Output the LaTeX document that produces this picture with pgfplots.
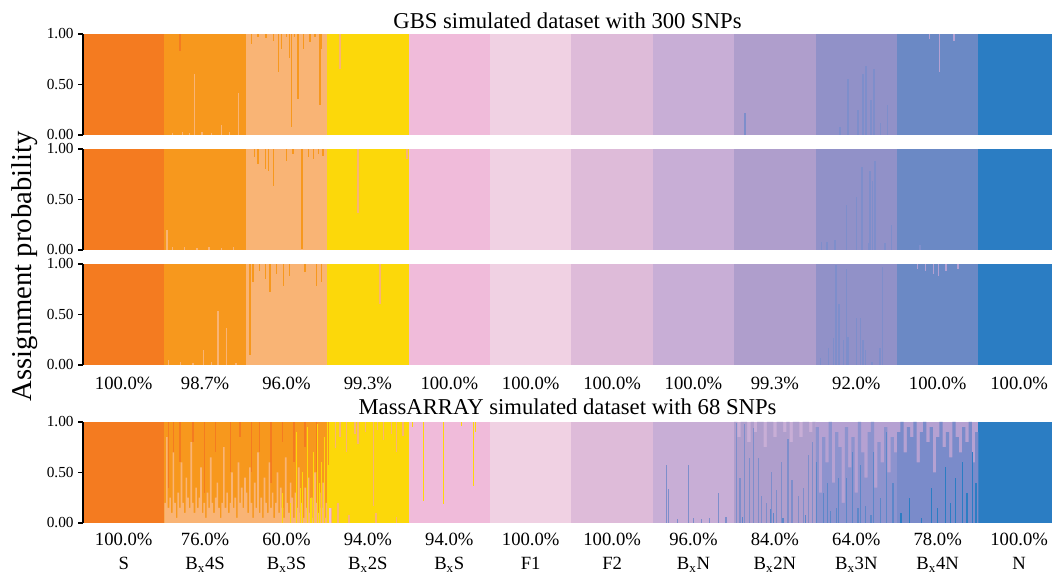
\documentclass[border=0pt]{standalone}
\usepackage{pgfplots}
\pgfplotsset{compat=1.18}
\usepackage{fontspec}
\setmainfont{Liberation Serif}
\definecolor{cS}{HTML}{F47B20}
\definecolor{cB4S}{HTML}{F7981D}
\definecolor{cB3S}{HTML}{F9B475}
\definecolor{cB2S}{HTML}{FCD80A}
\definecolor{cBS}{HTML}{F0BBDA}
\definecolor{cF1}{HTML}{F0D1E3}
\definecolor{cF2}{HTML}{DEBBD9}
\definecolor{cBN}{HTML}{C8AED6}
\definecolor{cB2N}{HTML}{AF9ECC}
\definecolor{cB3N}{HTML}{9191C8}
\definecolor{cB4N}{HTML}{6B89C5}
\definecolor{cN}{HTML}{2B7DC3}
\definecolor{cSpk}{HTML}{7E8ECB}
\definecolor{cMix}{HTML}{8D93CE}
\definecolor{cMix2}{HTML}{7A8BCA}
\definecolor{cLil}{HTML}{B5A1D2}
\definecolor{cBl}{HTML}{5D87C9}
\newcommand{\ftick}{\fontsize{11.5}{13}\selectfont}
\newcommand{\fpct}{\fontsize{14}{17}\selectfont}
\newcommand{\ftitle}{\fontsize{17}{20}\selectfont}
\newcommand{\fylab}{\fontsize{21.5}{25}\selectfont}
\pgfplotsset{
  blk/.style={draw=none, fill=#1, forget plot},
  sp/.style={ycomb, draw=#1, line width=1.1pt, mark=none, forget plot},
  tsp/.style={ycomb, draw=#1, line width=0.9pt, mark=none, forget plot},
  stp/.style={const plot, draw=none, fill=#1, mark=none, forget plot},
  panel/.style={
    scale only axis, width=726.75pt, height=75.75pt,
    anchor=south west,
    xmin=0, xmax=11.904, ymin=0, ymax=1,
    axis line style={draw=none},
    ytick={0,0.5,1}, yticklabels={0.00,0.50,1.00},
    ytick pos=left, tick align=outside, major tick length=3.5pt,
    ytick style={line width=1pt, black},
    yticklabel style={font=\ftick},
    xtick=\empty,
    xtick style={draw=none},
    xticklabel style={font=\fpct, anchor=base, yshift=-14.75pt},
    title style={font=\ftitle, at={(0.5,1)}, anchor=base},
    extra description/.code={\draw[line width=1.5pt] (axis description cs:0,0) -- (axis description cs:0,1);},
  }
}
\newcommand{\blocks}{%
\addplot[blk=cS] coordinates {(0,1)(1,1)}\closedcycle;
\addplot[blk=cB4S] coordinates {(1,1)(2,1)}\closedcycle;
\addplot[blk=cB3S] coordinates {(2,1)(3,1)}\closedcycle;
\addplot[blk=cB2S] coordinates {(3,1)(4,1)}\closedcycle;
\addplot[blk=cBS] coordinates {(4,1)(5,1)}\closedcycle;
\addplot[blk=cF1] coordinates {(5,1)(6,1)}\closedcycle;
\addplot[blk=cF2] coordinates {(6,1)(7,1)}\closedcycle;
\addplot[blk=cBN] coordinates {(7,1)(8,1)}\closedcycle;
\addplot[blk=cB2N] coordinates {(8,1)(9,1)}\closedcycle;
\addplot[blk=cB3N] coordinates {(9,1)(10,1)}\closedcycle;
\addplot[blk=cB4N] coordinates {(10,1)(11,1)}\closedcycle;
\addplot[blk=cN] coordinates {(11,1)(12,1)}\closedcycle;
}
\begin{document}
\begin{tikzpicture}
\useasboundingbox (0,0) rectangle (789pt,429.75pt);
% ---------------- Panel 1 ----------------
\begin{axis}[panel, at={(62.25pt,328.5pt)},
  title={GBS simulated dataset with 300 SNPs}, title style={yshift=-1.7pt}]
\blocks
\addplot[sp=cB3S] coordinates {(1.37,0.60)(1.70,0.10)(1.91,0.42)(1.10,0.02)(1.22,0.03)(1.31,0.02)(1.46,0.03)(1.58,0.02)(1.80,0.03)};
\addplot[sp=cS] coordinates {(1.19,1)};
\addplot[sp=cB4S] coordinates {(1.19,0.83)};
\addplot[sp=cB4S] coordinates {(2.07,1)(2.15,1)(2.25,1)(2.34,1)(2.40,1)(2.44,1)(2.50,1)(2.54,1)(2.56,1)(2.60,1)(2.64,1)(2.71,1)(2.79,1)(2.85,1)(2.91,1)(2.93,1)};
\addplot[sp=cB3S] coordinates {(2.07,0.90)(2.15,0.97)(2.25,0.96)(2.34,0.93)(2.40,0.62)(2.44,0.85)(2.50,0.97)(2.54,0.76)(2.56,0.08)(2.60,0.97)(2.64,0.36)(2.71,0.85)(2.79,0.92)(2.85,0.97)(2.91,0.30)(2.93,0.85)};
\addplot[sp=cB3S] coordinates {(3.16,1)};
\addplot[sp=cB2S] coordinates {(3.16,0.65)};
\addplot[sp=cSpk] coordinates {(8.13,0.22)(9.30,0.08)(9.40,0.55)(9.52,0.25)(9.58,0.60)(9.62,0.68)(9.68,0.35)(9.72,0.65)(9.80,0.12)(9.88,0.30)};
\addplot[sp=cLil] coordinates {(10.40,1)(10.52,1)(10.70,1)};
\addplot[sp=cB4N] coordinates {(10.40,0.95)(10.52,0.62)(10.70,0.93)};
\end{axis}
% ---------------- Panel 2 ----------------
\begin{axis}[panel, at={(62.25pt,242.25pt)}]
\blocks
\addplot[sp=cB3S] coordinates {(1.03,0.20)(1.10,0.03)(1.25,0.03)(1.40,0.02)(1.55,0.03)(1.70,0.02)(1.85,0.03)};
\addplot[sp=cB4S] coordinates {(2.11,1)(2.15,1)(2.24,1)(2.28,1)(2.34,1)(2.50,1)(2.58,1)(2.69,1)(2.77,1)(2.83,1)(2.89,1)(2.95,1)};
\addplot[sp=cB3S] coordinates {(2.11,0.92)(2.15,0.85)(2.24,0.80)(2.28,0.78)(2.34,0.63)(2.50,0.88)(2.58,0.95)(2.69,0.005)(2.77,0.92)(2.83,0.90)(2.89,0.95)(2.95,0.93)};
\addplot[sp=cB3S] coordinates {(3.38,1)(3.98,1)};
\addplot[sp=cB2S] coordinates {(3.38,0.37)(3.98,0.90)};
\addplot[sp=cSpk] coordinates {(9.07,0.08)(9.14,0.08)(9.24,0.10)(9.38,0.45)(9.50,0.52)(9.57,0.82)(9.65,0.07)(9.67,0.78)(9.70,0.68)(9.73,0.88)(9.85,0.07)(9.93,0.25)(10.28,0.05)};
\end{axis}
% ---------------- Panel 3 ----------------
\begin{axis}[panel, at={(62.25pt,156pt)},
  xtick={0.5,1.5,...,11.5},
  xticklabels={100.0\%,98.7\%,96.0\%,99.3\%,100.0\%,100.0\%,100.0\%,100.0\%,99.3\%,92.0\%,100.0\%,100.0\%}]
\blocks
\addplot[sp=cB3S] coordinates {(1.05,0.05)(1.48,0.15)(1.66,0.53)(1.76,0.37)(1.20,0.03)(1.35,0.02)(1.58,0.03)(1.88,0.02)};
\addplot[sp=cB4S] coordinates {(2.05,1)(2.09,1)(2.17,1)(2.24,1)(2.30,1)(2.38,1)(2.46,1)(2.54,1)(2.73,1)(2.87,1)(2.93,1)};
\addplot[sp=cB3S] coordinates {(2.05,0.10)(2.09,0.82)(2.17,0.93)(2.24,0.85)(2.30,0.72)(2.38,0.90)(2.46,0.78)(2.54,0.88)(2.73,0.92)(2.87,0.78)(2.93,0.82)};
\addplot[sp=cB3S] coordinates {(3.65,1)};
\addplot[sp=cB2S] coordinates {(3.65,0.60)};
\addplot[sp=cSpk] coordinates {(9.06,0.07)(9.16,0.17)(9.22,0.27)(9.25,0.99)(9.29,0.60)(9.34,0.25)(9.38,0.95)(9.40,0.28)(9.50,0.47)(9.55,0.47)(9.58,0.25)(9.61,0.15)(9.69,0.03)(9.79,0.17)(9.82,0.97)};
\addplot[sp=cLil] coordinates {(10.25,1)(10.35,1)(10.45,1)(10.51,1)(10.60,1)(10.75,1)};
\addplot[sp=cB4N] coordinates {(10.25,0.95)(10.35,0.93)(10.45,0.90)(10.51,0.88)(10.60,0.93)(10.75,0.95)};
\end{axis}
% ---------------- Panel 4 ----------------
\begin{axis}[panel, at={(62.25pt,37.5pt)},
  title={MassARRAY simulated dataset with 68 SNPs}, title style={yshift=-0.75pt},
  xtick={0.5,1.5,...,11.5},
  xticklabels={100.0\%,76.0\%,60.0\%,94.0\%,94.0\%,100.0\%,100.0\%,96.0\%,84.0\%,64.0\%,78.0\%,100.0\%},
  xticklabel style={yshift=1.65pt},
  extra x ticks={0.5,1.5,...,11.5},
  extra x tick labels={S,B\textsubscript{x}4S,B\textsubscript{x}3S,B\textsubscript{x}2S,B\textsubscript{x}S,F1,F2,B\textsubscript{x}N,B\textsubscript{x}2N,B\textsubscript{x}3N,B\textsubscript{x}4N,N},
  extra x tick style={xtick style={draw=none}, xticklabel style={yshift=-18.05pt}}]
\blocks
% B4S
\addplot[sp=cS] coordinates {(1.05,1)(1.11,1)(1.19,1)(1.35,1)(1.49,1)(1.63,1)(1.81,1)(1.93,1)};
\addplot[sp=cB4S] coordinates {(1.05,0.35)(1.11,0.20)(1.19,0.60)(1.35,0.80)(1.49,0.30)(1.63,0.70)(1.81,0.50)(1.93,0.85)};
\addplot[stp=cB3S] coordinates {(1.00,0.20)(1.02,0.85)(1.04,0.15)(1.06,0.25)(1.08,0.10)(1.10,0.70)(1.12,0.20)(1.14,0.05)(1.16,0.30)(1.18,0.15)(1.20,0.60)(1.22,0.20)(1.24,0.10)(1.26,0.45)(1.28,0.25)(1.30,0.15)(1.32,0.80)(1.34,0.20)(1.36,0.10)(1.38,0.35)(1.40,0.15)(1.42,0.25)(1.44,0.55)(1.46,0.10)(1.48,0.20)(1.50,0.05)(1.52,0.30)(1.54,0.15)(1.56,0.65)(1.58,0.20)(1.60,0.10)(1.62,0.25)(1.64,0.40)(1.66,0.15)(1.68,0.05)(1.70,0.20)(1.72,0.75)(1.74,0.15)(1.76,0.30)(1.78,0.10)(1.80,0.20)(1.82,0.50)(1.84,0.15)(1.86,0.25)(1.88,0.05)(1.90,0.60)(1.92,0.20)(1.94,0.35)(1.96,0.15)(1.98,0.45)(2.00,0.45)}\closedcycle;
% B3S
\addplot[blk=cB4S] coordinates {(2,1)(3,1)}\closedcycle;
\addplot[sp=cS] coordinates {(2.07,1)(2.17,1)(2.31,1)(2.45,1)(2.59,1)(2.73,1)(2.87,1)};
\addplot[sp=cB4S] coordinates {(2.07,0.50)(2.17,0.70)(2.31,0.40)(2.45,0.80)(2.59,0.60)(2.73,0.75)(2.87,0.50)};
\addplot[stp=cB3S] coordinates {(2.00,0.30)(2.02,0.10)(2.04,0.55)(2.06,0.20)(2.08,0.05)(2.10,0.40)(2.12,0.15)(2.14,0.70)(2.16,0.10)(2.18,0.25)(2.20,0.05)(2.22,0.45)(2.24,0.20)(2.26,0.10)(2.28,0.60)(2.30,0.15)(2.32,0.30)(2.34,0.05)(2.36,0.20)(2.38,0.50)(2.40,0.10)(2.42,0.35)(2.44,0.15)(2.46,0.05)(2.48,0.65)(2.50,0.20)(2.52,0.10)(2.54,0.40)(2.56,0.25)(2.58,0.05)(2.60,0.30)(2.62,0.15)(2.64,0.55)(2.66,0.10)(2.68,0.20)(2.70,0.05)(2.72,0.35)(2.74,0.15)(2.76,0.45)(2.78,0.10)(2.80,0.25)(2.82,0.05)(2.84,0.50)(2.86,0.20)(2.88,0.10)(2.90,0.30)(2.92,0.15)(2.94,0.40)(2.96,0.05)(2.98,0.20)(3.00,0.20)}\closedcycle;
\addplot[tsp=cB2S] coordinates {(2.45,0.30)(2.55,0.20)(2.62,0.90)(2.67,0.35)(2.70,0.50)(2.76,0.95)(2.80,0.25)(2.83,0.70)(2.88,0.98)(2.91,0.40)(2.93,0.60)(2.97,0.85)};
% B2S
\addplot[sp=cB3S] coordinates {(3.10,1)(3.16,1)(3.24,1)(3.34,1)(3.38,1)(3.47,1)(3.57,1)(3.62,1)(3.69,1)(3.79,1)(3.85,1)(3.93,1)};
\addplot[sp=cB2S] coordinates {(3.10,0.74)(3.16,0.85)(3.24,0.70)(3.34,0.88)(3.38,0.78)(3.47,0.90)(3.57,0.17)(3.62,0.92)(3.69,0.82)(3.79,0.88)(3.85,0.70)(3.93,0.86)};
\addplot[sp=cB3S] coordinates {(3.05,0.15)(3.13,0.20)(3.27,0.08)(3.60,0.10)(3.85,0.06)};
\addplot[sp=cB4S] coordinates {(3.015,1)};
\addplot[sp=cB2S] coordinates {(3.015,0.57)};
\addplot[sp=cBS] coordinates {(3.035,0.15)};
% BS
\addplot[tsp=cB2S] coordinates {(4.05,1)(4.18,1)(4.43,1)(4.65,1)(4.80,1)(4.82,1)};
\addplot[tsp=cBS] coordinates {(4.05,0.95)(4.18,0.22)(4.43,0.19)(4.65,0.96)(4.80,0.37)(4.82,0.90)};
% BN
\addplot[tsp=cSpk] coordinates {(7.17,0.57)(7.19,0.34)(7.44,0.57)(7.81,0.30)(7.30,0.04)(7.50,0.05)(7.60,0.04)(7.70,0.05)(7.90,0.06)};
% B2N
\addplot[blk=cBN] coordinates {(8,1)(9,1)}\closedcycle;
\addplot[stp=cB2N] coordinates {(8.00,1)(8.04,0.85)(8.08,1)(8.12,1)(8.16,0.8)(8.20,1)(8.24,0.9)(8.28,1)(8.32,1)(8.36,0.75)(8.40,1)(8.44,1)(8.48,0.85)(8.52,1)(8.56,1)(8.60,0.9)(8.64,1)(8.68,0.8)(8.72,1)(8.76,1)(8.80,0.85)(8.84,1)(8.88,1)(8.92,0.9)(8.96,1)(9.00,1)}\closedcycle;
\addplot[tsp=cSpk] coordinates {(8.03,0.99)(8.07,0.45)(8.13,0.98)(8.19,0.64)(8.24,0.94)(8.30,0.64)(8.34,0.27)(8.40,0.20)(8.46,0.50)(8.52,0.33)(8.58,0.60)(8.66,0.83)(8.71,0.43)(8.79,0.27)(8.85,0.35)(8.91,0.67)(8.96,0.80)};
\addplot[tsp=cBl] coordinates {(8.10,0.06)(8.45,0.14)(8.48,0.10)(8.60,0.05)(8.88,0.08)};
% B3N
\addplot[blk=cLil] coordinates {(9,1)(10,1)}\closedcycle;
\addplot[stp=cMix] coordinates {(9.00,0.95)(9.04,0.30)(9.08,0.85)(9.12,0.60)(9.16,1.0)(9.20,0.40)(9.24,0.90)(9.28,0.75)(9.32,0.20)(9.36,0.95)(9.40,0.55)(9.44,0.85)(9.48,0.30)(9.52,1.0)(9.56,0.70)(9.60,0.45)(9.64,0.90)(9.68,1.0)(9.72,0.35)(9.76,0.80)(9.80,0.60)(9.84,0.95)(9.88,0.50)(9.92,0.85)(9.96,0.70)(10.00,0.70)}\closedcycle;
\addplot[tsp=cBl] coordinates {(9.01,0.60)(9.10,0.30)(9.15,0.40)(9.18,0.12)(9.26,0.15)(9.28,0.45)(9.38,0.45)(9.45,0.70)(9.52,0.15)(9.55,0.57)(9.61,0.17)(9.68,0.08)(9.71,0.70)(9.80,0.25)(9.87,0.90)(9.95,0.40)};
% B4N
\addplot[blk=cLil] coordinates {(10,1)(11,1)}\closedcycle;
\addplot[stp=cMix2] coordinates {(10.00,0.90)(10.04,1.0)(10.08,0.70)(10.12,0.95)(10.16,0.85)(10.20,1.0)(10.24,0.60)(10.28,0.90)(10.32,1.0)(10.36,0.80)(10.40,0.95)(10.44,0.50)(10.48,0.85)(10.52,1.0)(10.56,0.75)(10.60,0.90)(10.64,0.65)(10.68,1.0)(10.72,0.85)(10.76,0.70)(10.80,0.95)(10.84,0.80)(10.88,1.0)(10.92,0.60)(10.96,0.90)(11.00,0.90)}\closedcycle;
\addplot[tsp=cN] coordinates {(10.05,0.10)(10.15,0.25)(10.30,0.05)(10.42,0.35)(10.50,0.15)(10.60,0.55)(10.66,0.20)(10.72,0.45)(10.80,0.60)(10.86,0.30)(10.93,0.70)(10.97,0.40)};
\end{axis}
\node[rotate=90, anchor=base, font=\fylab] at (24pt,230pt) {Assignment probability};
\end{tikzpicture}
\end{document}
